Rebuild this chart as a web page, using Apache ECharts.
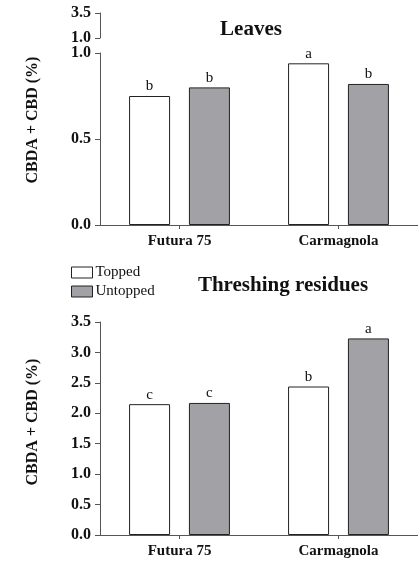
<!DOCTYPE html>
<html>
<head>
<meta charset="utf-8">
<script src="https://cdn.jsdelivr.net/npm/echarts@6/dist/echarts.min.js"></script>
<style>html,body{margin:0;padding:0;background:#fff}#c{width:418px;height:562px}</style>
</head>
<body>
<div id="c"></div>
<script>
const categories = ['Futura 75', 'Carmagnola'];
const seriesNames = ['Topped', 'Untopped'];
const leavesTopped = [0.75, 0.94];
const leavesUntopped = [0.80, 0.82];
const leavesToppedLetters = ['b', 'a'];
const leavesUntoppedLetters = ['b', 'b'];
const residuesTopped = [2.15, 2.44];
const residuesUntopped = [2.17, 3.23];
const residuesToppedLetters = ['c', 'b'];
const residuesUntoppedLetters = ['c', 'a'];
const leavesTicks = [0, 0.5, 1.0];
const leavesBreakTicks = [1.0, 3.5];
const residuesTicks = [0, 0.5, 1.0, 1.5, 2.0, 2.5, 3.0, 3.5];
const yTitle = 'CBDA + CBD (%)';
const panelTitles = ['Leaves', 'Threshing residues'];

const SERIF = '"Liberation Serif", "Times New Roman", serif';
const AXIS = '#555';
const INK = '#111';
const GRAY = '#a2a1a6';

function valAxis(grid, min, max, ticks) {
  return {
    type: 'value', gridIndex: grid, min: min, max: max,
    axisLine: {show: true, lineStyle: {color: AXIS, width: 1}},
    axisTick: {show: true, length: 5, lineStyle: {color: AXIS}, customValues: ticks},
    axisLabel: {show: true, customValues: ticks, margin: 9, color: INK,
      fontFamily: SERIF, fontWeight: 'bold', fontSize: 16,
      formatter: v => v.toFixed(1)},
    splitLine: {show: false}
  };
}
function catAxis(grid, show) {
  return {
    type: 'category', gridIndex: grid, data: categories, show: show,
    axisLine: {show: true, lineStyle: {color: AXIS, width: 1}},
    axisTick: {show: true, alignWithLabel: true, length: 4, lineStyle: {color: AXIS}},
    axisLabel: {color: INK, fontFamily: SERIF, fontWeight: 'bold', fontSize: 15, margin: 9}
  };
}
function bar(name, grid, data, letters, color) {
  return {
    type: 'bar', name: name, xAxisIndex: grid, yAxisIndex: grid,
    data: data, barWidth: 41, barGap: '46%',
    itemStyle: {color: color, borderColor: '#222', borderWidth: 1},
    label: {show: true, position: 'top', distance: 2, color: INK,
      fontFamily: SERIF, fontSize: 15,
      formatter: p => letters[p.dataIndex]},
    animation: false
  };
}

const chart = echarts.init(document.getElementById('c'), null, {renderer: 'canvas'});
chart.setOption({
  animation: false,
  backgroundColor: '#fff',
  title: [
    {text: panelTitles[0], left: 251, top: 19, textAlign: 'center', padding: 0,
     textStyle: {fontFamily: SERIF, fontWeight: 'bold', fontSize: 21, color: INK}},
    {text: panelTitles[1], left: 283, top: 275, textAlign: 'center', padding: 0,
     textStyle: {fontFamily: SERIF, fontWeight: 'bold', fontSize: 21, color: INK}}
  ],
  legend: {
    orient: 'vertical', left: 71, top: 265, padding: 0,
    itemWidth: 21, itemHeight: 11, itemGap: 4, icon: 'rect',
    data: seriesNames,
    itemStyle: {borderColor: '#222', borderWidth: 1},
    textStyle: {fontFamily: SERIF, fontSize: 15, color: INK, padding: [0, 0, 0, -2]}
  },
  grid: [
    {left: 100, top: 53, width: 321, height: 172},
    {left: 100, top: 13, width: 321, height: 25},
    {left: 100, top: 322, width: 321, height: 213}
  ],
  xAxis: [catAxis(0, true), catAxis(1, false), catAxis(2, true)],
  yAxis: [
    valAxis(0, 0, 1.0, leavesTicks),
    valAxis(1, 1.0, 3.5, leavesBreakTicks),
    valAxis(2, 0, 3.5, residuesTicks)
  ],
  graphic: [
    {type: 'text', x: 33, y: 120, rotation: Math.PI / 2,
     style: {text: yTitle, fontFamily: SERIF, fontWeight: 'bold', fontSize: 16,
       fill: INK, align: 'center', verticalAlign: 'middle'}},
    {type: 'text', x: 33, y: 422, rotation: Math.PI / 2,
     style: {text: yTitle, fontFamily: SERIF, fontWeight: 'bold', fontSize: 16,
       fill: INK, align: 'center', verticalAlign: 'middle'}}
  ],
  series: [
    bar(seriesNames[0], 0, leavesTopped, leavesToppedLetters, '#fff'),
    bar(seriesNames[1], 0, leavesUntopped, leavesUntoppedLetters, GRAY),
    bar(seriesNames[0], 2, residuesTopped, residuesToppedLetters, '#fff'),
    bar(seriesNames[1], 2, residuesUntopped, residuesUntoppedLetters, GRAY)
  ]
});
</script>
</body>
</html>
